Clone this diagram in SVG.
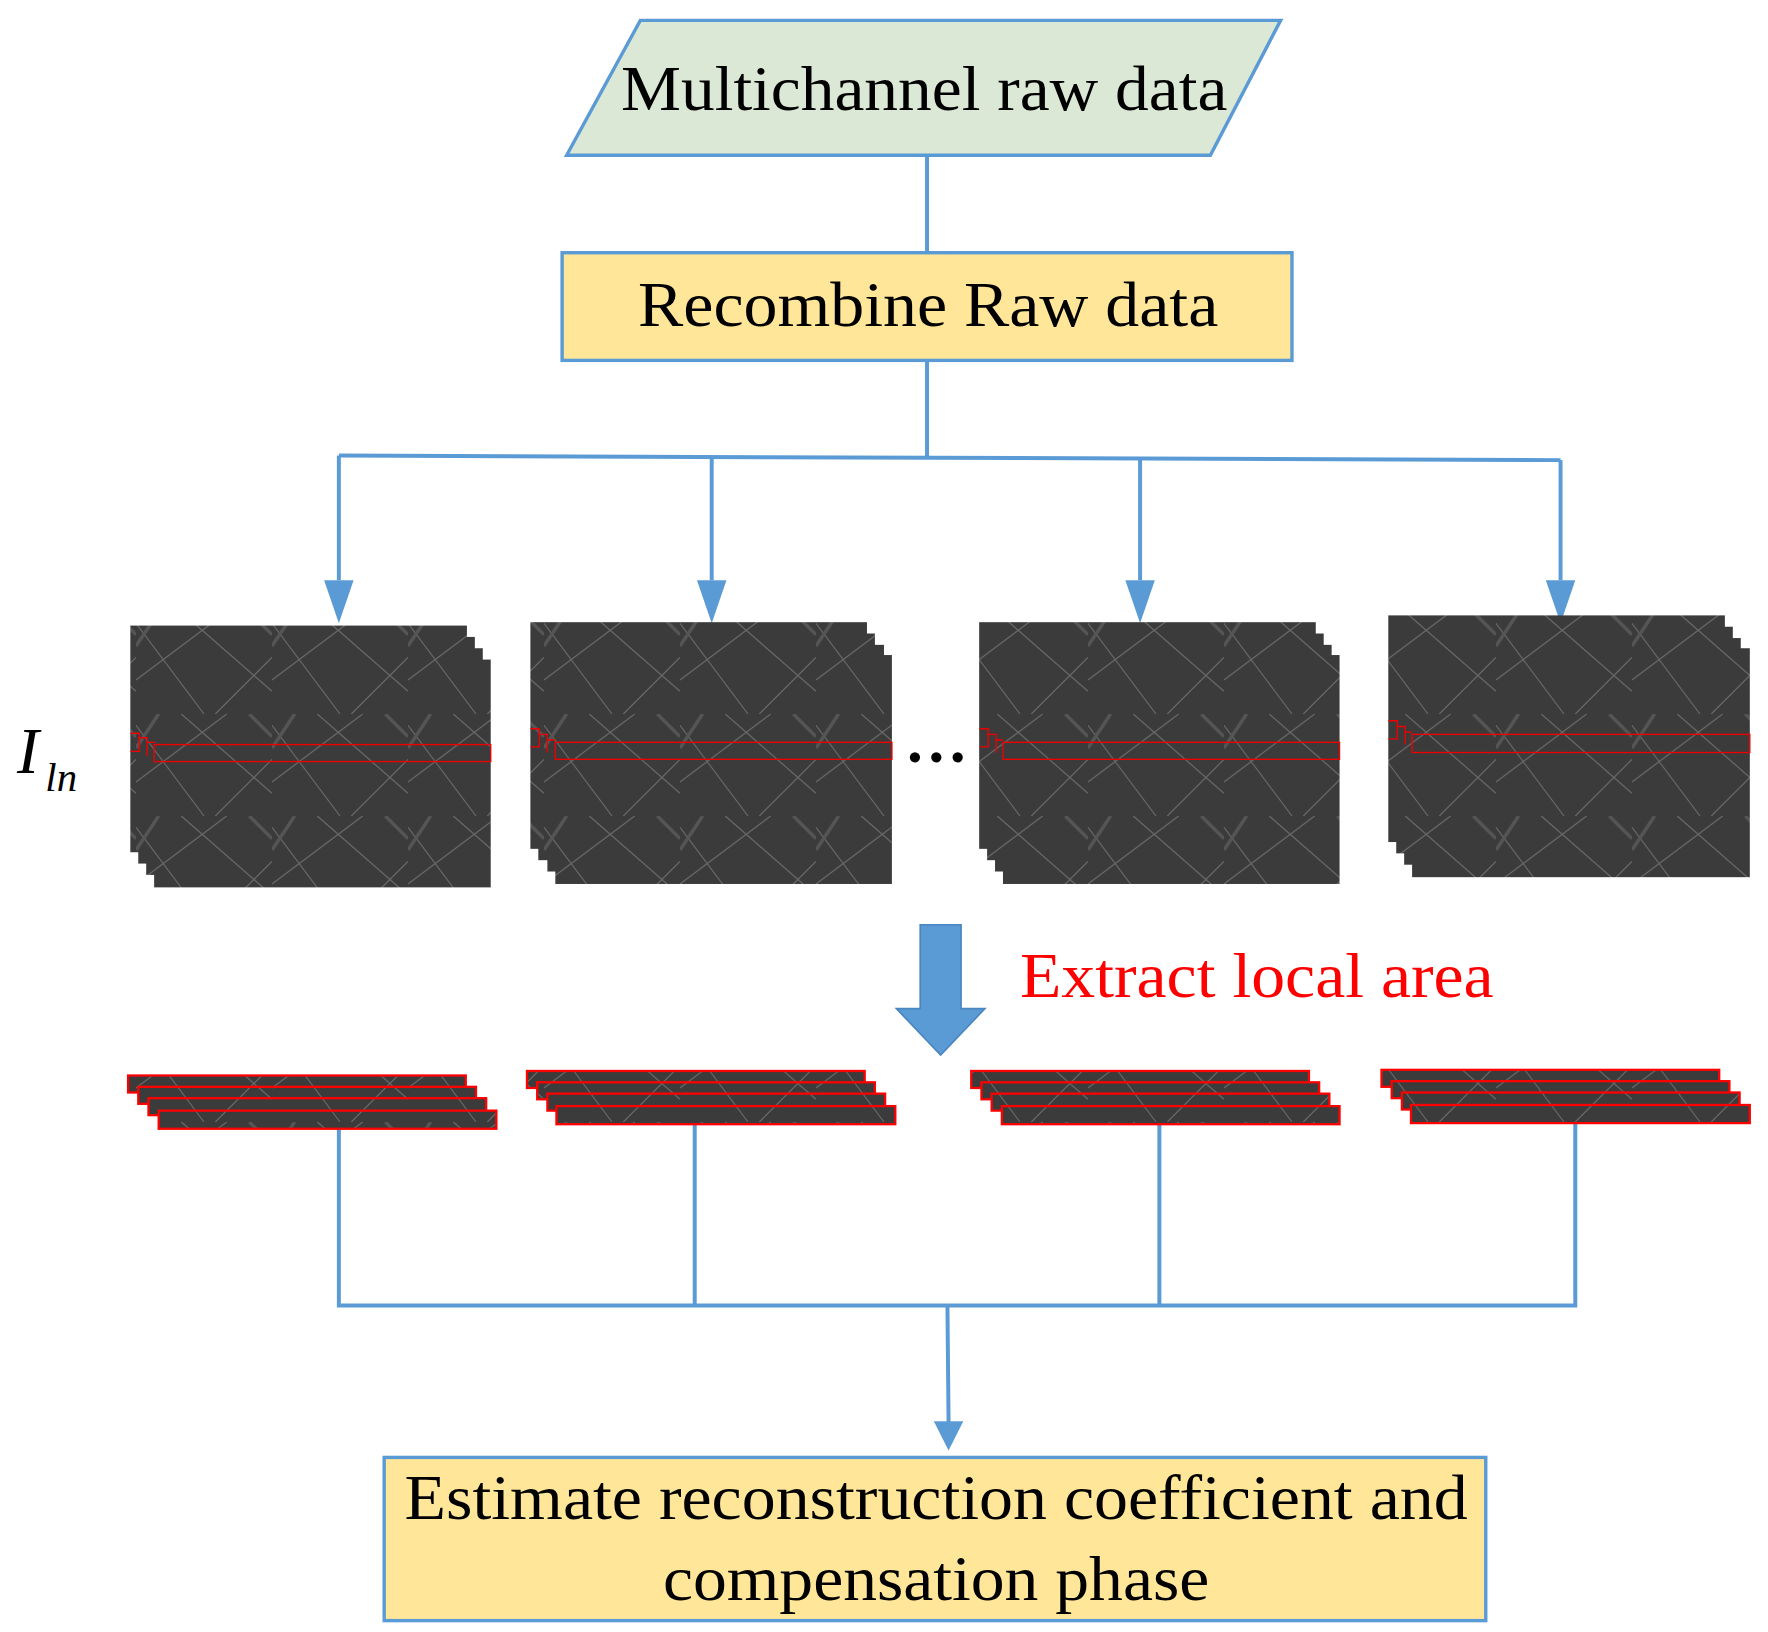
<svg xmlns="http://www.w3.org/2000/svg" width="1768" height="1632" viewBox="0 0 1768 1632">
<style>
.t{font-family:"Liberation Serif","Times New Roman",serif;font-size:56px;fill:#000}
.c{fill:none;stroke:#5b9bd5;stroke-width:3.5}
.img{fill:url(#sar)}
.strip{fill:url(#sar);stroke:#f00;stroke-width:2}
.red{fill:none;stroke:#e00;stroke-width:1.2}
</style>
<defs>
<pattern id="sar" patternUnits="userSpaceOnUse" width="120" height="90">
<rect width="120" height="90" fill="#3b3b3b"/>
<path d="M0 10 L60 90 M40 0 L120 70 M0 60 L80 0 M70 90 L120 40" stroke="#6a6a6a" stroke-width="1"/>
<path d="M20 0 L0 30 M100 0 L120 20" stroke="#555" stroke-width="3"/>
</pattern>
</defs>
<g transform="scale(1.1333)">
<g id="connectors">
<path class="c" d="M818 137 V223"/>
<path class="c" d="M818 318 V403 M299 402 L1377 406"/>
<path class="c" d="M299 402 V512"/><path d="M286 512 H312 L299 550 Z" fill="#5b9bd5"/>
<path class="c" d="M628 403 V512"/><path d="M615 512 H641 L628 550 Z" fill="#5b9bd5"/>
<path class="c" d="M1006 405 V512"/><path d="M993 512 H1019 L1006 550 Z" fill="#5b9bd5"/>
<path class="c" d="M1377 406 V512"/><path d="M1364 512 H1390 L1377 550 Z" fill="#5b9bd5"/>
<path class="c" d="M299 996 V1152 H1390 V991 M613 992 V1152 M1023 992 V1152 M836 1152 L837 1255"/>
<path d="M824 1254 H850 L837 1280 Z" fill="#5b9bd5"/>
<path d="M812 816 H848 V890 H869 L830 931 L791 890 H812 Z" fill="#5b9bd5" stroke="#4a86c0" stroke-width="1.5"/>
</g>
<g id="n1">
<path d="M565 18 H1130 L1068 137 H500 Z" fill="#dae8d5" stroke="#5b9bd5" stroke-width="3"/>
<text class="t" x="548" y="97" textLength="535" lengthAdjust="spacingAndGlyphs">Multichannel raw data</text>
</g>
<g id="n2">
<rect x="496" y="223" width="644" height="95" fill="#ffe699" stroke="#5b9bd5" stroke-width="3"/>
<text class="t" x="563" y="288" textLength="512" lengthAdjust="spacingAndGlyphs">Recombine Raw data</text>
</g>
<g id="stack1">
<rect class="img" x="115" y="552" width="297" height="200"/>
<rect class="img" x="122" y="562" width="297" height="200"/>
<rect class="img" x="129" y="572" width="297" height="200"/>
<rect class="img" x="136" y="582" width="297" height="201"/>
<path class="red" d="M115 647 H123 V663 H115 M122 651 H130 V667 M129 655 H137"/>
<rect class="red" x="136" y="657" width="297" height="15"/>
</g>
<g id="stack2">
<rect class="img" x="468" y="549" width="297" height="200"/>
<rect class="img" x="475" y="559" width="297" height="200"/>
<rect class="img" x="483" y="569" width="297" height="200"/>
<rect class="img" x="490" y="578" width="297" height="202"/>
<path class="red" d="M468 643 H476 V659 H468 M475 648 H483 V664 M483 653 H490"/>
<rect class="red" x="490" y="655" width="297" height="15"/>
</g>
<g id="stack3">
<rect class="img" x="864" y="549" width="297" height="200"/>
<rect class="img" x="871" y="559" width="297" height="200"/>
<rect class="img" x="878" y="569" width="297" height="200"/>
<rect class="img" x="885" y="578" width="297" height="202"/>
<path class="red" d="M864 643 H872 V659 H864 M871 648 H879 V664 M878 653 H885"/>
<rect class="red" x="885" y="655" width="297" height="15"/>
</g>
<g id="stack4">
<rect class="img" x="1225" y="543" width="297" height="200"/>
<rect class="img" x="1232" y="553" width="297" height="200"/>
<rect class="img" x="1239" y="563" width="297" height="200"/>
<rect class="img" x="1246" y="572" width="298" height="202"/>
<path class="red" d="M1225 636 H1233 V652 H1225 M1232 641 H1240 V657 M1239 646 H1246"/>
<rect class="red" x="1246" y="648" width="298" height="16"/>
</g>
<text class="t" x="826" y="672" text-anchor="middle" style="font-weight:bold">…</text>
<g id="label-iln">
<text x="15" y="682" style="font-family:'Liberation Serif',serif;font-style:italic;font-size:58px">I</text>
<text x="40" y="698" style="font-family:'Liberation Serif',serif;font-style:italic;font-size:36px">ln</text>
</g>
<text x="900" y="880" textLength="418" lengthAdjust="spacingAndGlyphs" style="font-family:'Liberation Serif',serif;font-size:56px;fill:#f00">Extract local area</text>
<g id="strips1">
<rect class="strip" x="113" y="949" width="298" height="15"/>
<rect class="strip" x="122" y="959" width="298" height="15"/>
<rect class="strip" x="131" y="969" width="298" height="15"/>
<rect class="strip" x="140" y="980" width="298" height="16"/>
</g>
<g id="strips2">
<rect class="strip" x="465" y="945" width="298" height="15"/>
<rect class="strip" x="474" y="955" width="298" height="15"/>
<rect class="strip" x="483" y="965" width="298" height="15"/>
<rect class="strip" x="491" y="976" width="299" height="16"/>
</g>
<g id="strips3">
<rect class="strip" x="857" y="945" width="298" height="15"/>
<rect class="strip" x="866" y="955" width="298" height="15"/>
<rect class="strip" x="875" y="965" width="298" height="15"/>
<rect class="strip" x="884" y="976" width="298" height="16"/>
</g>
<g id="strips4">
<rect class="strip" x="1219" y="944" width="298" height="15"/>
<rect class="strip" x="1228" y="954" width="298" height="15"/>
<rect class="strip" x="1237" y="964" width="298" height="15"/>
<rect class="strip" x="1245" y="975" width="299" height="16"/>
</g>
<g id="n3">
<rect x="339" y="1286" width="972" height="144" fill="#ffe699" stroke="#5b9bd5" stroke-width="3"/>
<text class="t" x="357" y="1340" textLength="938" lengthAdjust="spacingAndGlyphs">Estimate reconstruction coefficient and</text>
<text class="t" x="585" y="1412" textLength="482" lengthAdjust="spacingAndGlyphs">compensation phase</text>
</g>
</g>
</svg>
